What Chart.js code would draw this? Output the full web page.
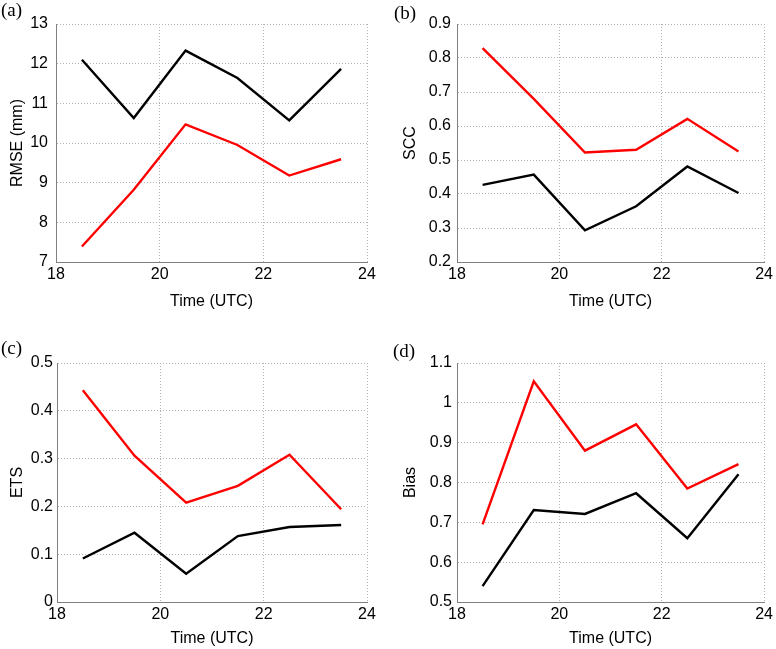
<!DOCTYPE html>
<html>
<head>
<meta charset="utf-8">
<script src="https://cdn.jsdelivr.net/npm/chart.js@4.4.0/dist/chart.umd.min.js"></script>
<style>
  body { margin: 0; background: #fff; }
  #wrap { position: relative; width: 776px; height: 649px; }
  #wrap canvas { position: absolute; }
  .tag { position: absolute; font-family: "Liberation Serif", "Times New Roman", serif; font-size: 19px; line-height: 20px; color: #000; }
</style>
</head>
<body>
<div id="wrap">
  <canvas id="chartA" width="388" height="320" style="left:0;top:0"></canvas>
  <canvas id="chartB" width="388" height="320" style="left:388px;top:0"></canvas>
  <canvas id="chartC" width="388" height="329" style="left:0;top:320px"></canvas>
  <canvas id="chartD" width="388" height="329" style="left:388px;top:320px"></canvas>
  <div class="tag" style="left:1px;top:0px">(a)</div>
  <div class="tag" style="left:394px;top:3px">(b)</div>
  <div class="tag" style="left:1px;top:338px">(c)</div>
  <div class="tag" style="left:393px;top:341px">(d)</div>
</div>
<script>
// hours (UTC) of each verification window
const times = [18.5, 19.5, 20.5, 21.5, 22.5, 23.5];

// (a) RMSE (mm)
const rmseRed = [7.39, 8.82, 10.47, 9.95, 9.18, 9.59];
const rmseBlack = [12.10, 10.63, 12.33, 11.64, 10.57, 11.87];

// (b) SCC
const sccRed = [0.829, 0.68, 0.522, 0.530, 0.621, 0.525];
const sccBlack = [0.427, 0.457, 0.293, 0.364, 0.481, 0.403];

// (c) ETS
const etsRed = [0.443, 0.306, 0.208, 0.243, 0.308, 0.194];
const etsBlack = [0.091, 0.145, 0.059, 0.138, 0.157, 0.161];

// (d) Bias
const biasRed = [0.695, 1.054, 0.880, 0.946, 0.785, 0.846];
const biasBlack = [0.540, 0.731, 0.721, 0.773, 0.660, 0.821];

const tickFont = { family: '"Liberation Sans", Arial, sans-serif', size: 16 };

function toPoints(values) {
    return times.map((t, i) => ({ x: t, y: values[i] }));
}

// matlab style labels: 1 instead of 1.0
function plainLabel(v) {
    return String(+v.toFixed(2));
}

function makePanel(canvasId, red, black, yMin, yMax, yStep, yTitle, g) {
    new Chart(document.getElementById(canvasId), {
        type: 'line',
        data: {
            datasets: [
                { data: toPoints(red), borderColor: '#ff0000', borderWidth: 2.4, pointRadius: 0, tension: 0 },
                { data: toPoints(black), borderColor: '#000000', borderWidth: 2.4, pointRadius: 0, tension: 0 }
            ]
        },
        options: {
            responsive: false,
            animation: false,
            layout: { padding: { top: g.top, right: g.right, left: 0, bottom: 0 } },
            plugins: { legend: { display: false }, tooltip: { enabled: false } },
            scales: {
                x: {
                    type: 'linear',
                    min: 18,
                    max: 24,
                    ticks: { stepSize: 2, color: '#000', font: tickFont, padding: 3, maxRotation: 0 },
                    grid: { color: '#b4b4b4', drawTicks: false },
                    border: { color: '#808080', dash: [1, 2] },
                    title: { display: true, text: 'Time (UTC)', color: '#000', font: tickFont, padding: { top: 0, bottom: g.xTitlePad } },
                    afterFit: s => { s.height = g.xHeight; }
                },
                y: {
                    min: yMin,
                    max: yMax,
                    ticks: { stepSize: yStep, color: '#000', font: tickFont, padding: g.yTickPad, callback: plainLabel },
                    grid: { color: '#b4b4b4', drawTicks: false },
                    border: { color: '#808080', dash: [1, 2] },
                    title: { display: true, text: yTitle, color: '#000', font: tickFont, padding: { top: g.yTitlePad, bottom: 0 } },
                    afterFit: s => { s.width = g.yWidth; }
                }
            }
        }
    });
}

makePanel('chartA', rmseRed, rmseBlack, 7, 13, 1, 'RMSE (mm)',
    { top: 24, right: 21, xHeight: 58, xTitlePad: 9, yWidth: 56, yTickPad: 8, yTitlePad: 8 });
makePanel('chartB', sccRed, sccBlack, 0.2, 0.9, 0.1, 'SCC',
    { top: 24, right: 9, xHeight: 58, xTitlePad: 9, yWidth: 69, yTickPad: 6, yTitlePad: 13 });
makePanel('chartC', etsRed, etsBlack, 0, 0.5, 0.1, 'ETS',
    { top: 43, right: 21, xHeight: 47, xTitlePad: 1, yWidth: 57, yTickPad: 4, yTitlePad: 8 });
makePanel('chartD', biasRed, biasBlack, 0.5, 1.1, 0.1, 'Bias',
    { top: 43, right: 9, xHeight: 47, xTitlePad: 1, yWidth: 69, yTickPad: 5, yTitlePad: 13 });
</script>
</body>
</html>
